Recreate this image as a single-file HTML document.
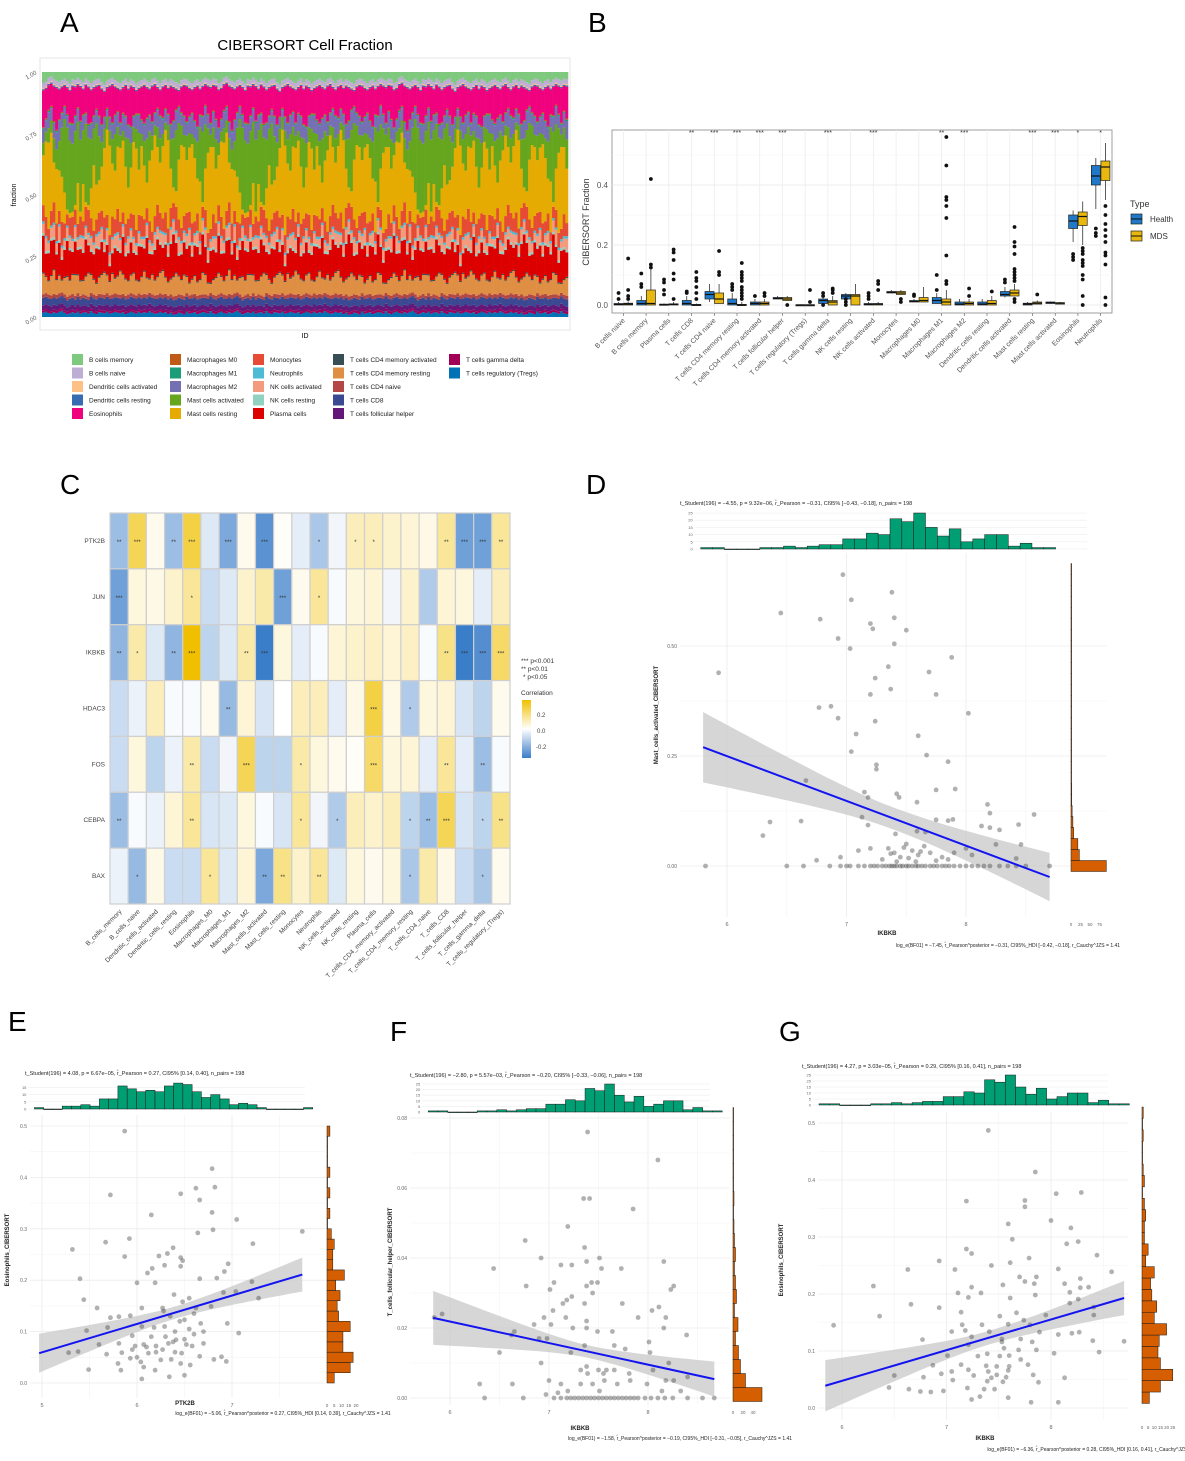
<!DOCTYPE html>
<html><head><meta charset="utf-8">
<style>
html,body{margin:0;padding:0;background:#fff;}
svg{display:block;font-family:"Liberation Sans",Arial,sans-serif;}
</style></head>
<body>
<svg id="fig" width="1185" height="1461" viewBox="0 0 1185 1461" xmlns="http://www.w3.org/2000/svg">
<rect x="0" y="0" width="1185" height="1461" fill="#fff"/>
<text x="60" y="32" font-size="28">A</text>
<text x="588" y="32" font-size="28">B</text>
<text x="60" y="494" font-size="28">C</text>
<text x="586" y="494" font-size="28">D</text>
<text x="8" y="1031" font-size="28">E</text>
<text x="390" y="1041" font-size="28">F</text>
<text x="779" y="1041" font-size="28">G</text>
</svg>
<script>
// ---------- Panel A data ----------
const cellTypes=["B cells memory","B cells naive","Dendritic cells activated","Dendritic cells resting","Eosinophils","Macrophages M0","Macrophages M1","Macrophages M2","Mast cells activated","Mast cells resting","Monocytes","Neutrophils","NK cells activated","NK cells resting","Plasma cells","T cells CD4 memory activated","T cells CD4 memory resting","T cells CD4 naive","T cells CD8","T cells follicular helper","T cells gamma delta","T cells regulatory (Tregs)"];
const cellColors=["#7FC97F","#BEAED4","#FDC086","#386CB0","#F0027F","#BF5B17","#1B9E77","#7570B3","#66A61E","#E6AB02","#E64B35","#4DBBD5","#F39B7F","#91D1C2","#DC0000","#374E55","#DF8F44","#B24745","#3B4992","#631879","#A20056","#0072B5"];
const baseFrac=[0.04,0.02,0.005,0.005,0.12,0.005,0.005,0.06,0.12,0.25,0.06,0.01,0.04,0.01,0.11,0.005,0.07,0.015,0.03,0.02,0.01,0.02];
const mastActVar=[0.05,0.04,0.06,0.05,0.1,0.08,0.12,0.2,0.3,0.35,0.3,0.28,0.32,0.25,0.3,0.22,0.35,0.3,0.2,0.15,0.25,0.18,0.1,0.08,0.05,0.06,0.1,0.15,0.08,0.05,0.04,0.12,0.2,0.1,0.06,0.08,0.15,0.05,0.1,0.18,0.12,0.06,0.04,0.08,0.1,0.05,0.03,0.06,0.12,0.2,0.25,0.15,0.08,0.05,0.1,0.06,0.04,0.08,0.15,0.22,0.3,0.18,0.1,0.05,0.08,0.12];
const eosVar=[0.08,0.1,0.12,0.09,0.1,0.15,0.13,0.08,0.06,0.1,0.12,0.14,0.11,0.09,0.13,0.16,0.1,0.12,0.08,0.11,0.14,0.1,0.13,0.15,0.12,0.1,0.09,0.14,0.17,0.12,0.1,0.08,0.11,0.13,0.15,0.12,0.09,0.14,0.1,0.12,0.16,0.13,0.11,0.09,0.12,0.14,0.1,0.08,0.12,0.15,0.11,0.09,0.13,0.1,0.12,0.14,0.16,0.11,0.09,0.1,0.13,0.15,0.12,0.1,0.14,0.11];
const plasmaVar=[0.06,0.08,0.12,0.1,0.07,0.15,0.09,0.11,0.13,0.08,0.1,0.14,0.12,0.09,0.16,0.1,0.08,0.12,0.15,0.11,0.09,0.13,0.1,0.14,0.17,0.12,0.08,0.1,0.13,0.11,0.15,0.09,0.12,0.14,0.1,0.16,0.11,0.08,0.13,0.12,0.1,0.15,0.09,0.11,0.14,0.12,0.1,0.13,0.08,0.11,0.15,0.12,0.09,0.14,0.1,0.13,0.11,0.16,0.12,0.09,0.1,0.14,0.11,0.13,0.08,0.12];
const nSamples=198;
const aTicks=["0.00","0.25","0.50","0.75","1.00"];

// ---------- Panel B data ----------
const bCats=["B cells naive","B cells memory","Plasma cells","T cells CD8","T cells CD4 naive","T cells CD4 memory resting","T cells CD4 memory activated","T cells follicular helper","T cells regulatory (Tregs)","T cells gamma delta","NK cells resting","NK cells activated","Monocytes","Macrophages M0","Macrophages M1","Macrophages M2","Dendritic cells resting","Dendritic cells activated","Mast cells resting","Mast cells activated","Eosinophils","Neutrophils"];
const hLo=[0,0,0,0,0.01,0,0,0.02,0,0.005,0.02,0,0.04,0.01,0.005,0,0,0.025,0,0.005,0.21,0.32];
const hQ1=[0,0,0,0,0.02,0,0,0.02,0,0.005,0.02,0,0.04,0.01,0.005,0,0,0.03,0,0.005,0.255,0.40];
const hMed=[0.002,0.005,0.001,0.005,0.035,0.005,0.005,0.022,0,0.015,0.03,0.002,0.042,0.012,0.015,0.003,0.003,0.035,0.003,0.008,0.28,0.43];
const hQ3=[0.005,0.015,0.003,0.015,0.045,0.02,0.01,0.025,0.001,0.02,0.035,0.005,0.045,0.015,0.025,0.01,0.01,0.045,0.006,0.01,0.30,0.465];
const hHi=[0.01,0.03,0.005,0.03,0.07,0.04,0.02,0.03,0.002,0.04,0.04,0.01,0.05,0.02,0.04,0.02,0.02,0.06,0.01,0.012,0.315,0.49];
const mLo=[0,0,0,0,0.005,0,0,0.015,0,0,0,0,0.035,0.01,0,0,0,0.03,0.003,0.003,0.2,0.35];
const mQ1=[0,0,0,0,0.005,0,0,0.015,0,0,0,0,0.035,0.01,0,0,0,0.03,0.003,0.003,0.265,0.415];
const mMed=[0.003,0.005,0.002,0,0.02,0,0.005,0.02,0,0.01,0.03,0.003,0.04,0.015,0.01,0.005,0.005,0.04,0.006,0.006,0.295,0.46];
const mQ3=[0.006,0.05,0.004,0.002,0.04,0.002,0.01,0.025,0.001,0.015,0.035,0.005,0.045,0.025,0.02,0.01,0.015,0.05,0.01,0.008,0.31,0.48];
const mHi=[0.012,0.12,0.01,0.005,0.07,0.01,0.02,0.03,0.002,0.03,0.07,0.01,0.05,0.06,0.05,0.02,0.03,0.07,0.015,0.01,0.345,0.54];
const hOut=[[0.04,0.02],[0.105,0.07,0.06],[0.085,0.075,0.05,0.035],[0.045,0.04],[],[0.07,0.06,0.05],[0.03],[],[],[0.04,0.03,0],[0.02,0.01,0],[0.04,0.03,0.02],[],[0.035,0.03],[0.1,0.05],[],[],[0.085,0.075],[],[],[0.17,0.16,0.15],[0.255,0.24,0.23]];
const mOut=[[0.155,0.05,0.03,0.02],[0.42,0.135,0.125],[0.185,0.175,0.15,0.105,0.085,0.02],[0.11,0.09,0.08,0.06,0.04,0.02],[0.18,0.11,0.1],[0.14,0.11,0.1,0.09,0.08,0.06,0.05,0.04,0.03,0.02],[0.04,0.03],[0],[0.05,0.01],[0.055,0.05,0.04],[],[0.08,0.07,0.05],[0.02,0.01],[],[0.56,0.465,0.36,0.35,0.33,0.29,0.165,0.08,0.07],[0.055,0.03],[0.045],[0.26,0.21,0.195,0.17,0.12,0.11,0.1,0.09,0.08,0.02,0.01],[0.035],[],[0.19,0.18,0.17,0.15,0.14,0.13,0.1,0.085,0.03,0],[0.33,0.3,0.27,0.25,0.23,0.21,0.175,0.165,0.135,0.025,0]];
const bSig=["","","","**","***","***","***","***","","***","","***","","","**","***","","","***","***","*","*"];
const bTicks=[0,0.2,0.4];

// ---------- Panel C data ----------
const hmRows=["PTK2B","JUN","IKBKB","HDAC3","FOS","CEBPA","BAX"];
const hmCols=["B_cells_memory","B_cells_naive","Dendritic_cells_activated","Dendritic_cells_resting","Eosinophils","Macrophages_M0","Macrophages_M1","Macrophages_M2","Mast_cells_activated","Mast_cells_resting","Monocytes","Neutrophils","NK_cells_activated","NK_cells_resting","Plasma_cells","T_cells_CD4_memory_activated","T_cells_CD4_memory_resting","T_cells_CD4_naive","T_cells_CD8","T_cells_follicular_helper","T_cells_gamma_delta","T_cells_regulatory_(Tregs)"];
const corrPTK2B=[-0.15,0.2,0.02,-0.15,0.22,-0.05,-0.2,0.02,-0.25,0.01,-0.04,-0.13,-0.02,0.08,0.08,0.06,0.05,0.03,0.12,-0.22,-0.22,0.12];
const corrJUN=[-0.22,0.04,0.03,0.06,0.12,-0.08,-0.05,0.06,0.1,-0.22,0.02,0.12,-0.01,0.04,0.05,-0.02,0.06,-0.12,0.05,0.04,-0.04,0.08];
const corrIKBKB=[-0.17,0.1,-0.05,-0.17,0.3,-0.1,-0.05,0.1,-0.3,0.04,-0.04,-0.01,0.05,0.06,0.07,0.05,0.07,-0.01,0.14,-0.3,-0.26,0.18];
const corrHDAC3=[-0.08,-0.03,0.08,-0.01,-0.01,0.02,-0.16,0.05,-0.06,0,0.08,0.08,-0.04,0.03,0.22,0.03,-0.12,0.04,0.05,-0.06,-0.1,0.02];
const corrFOS=[-0.08,0.04,-0.1,-0.03,0.1,-0.08,-0.02,0.2,-0.1,-0.1,0.1,0.04,0.02,0.01,0.18,0.04,0.05,-0.04,0.12,-0.04,-0.15,-0.01];
const corrCEBPA=[-0.15,-0.01,-0.03,0.05,0.12,-0.06,-0.05,0.04,-0.01,-0.06,0.12,-0.02,-0.12,0.08,0.06,0.08,-0.1,-0.15,0.2,-0.06,-0.1,0.14];
const corrBAX=[-0.03,-0.16,0.03,-0.08,-0.08,0.12,-0.05,0.05,-0.2,0.14,0.06,0.12,-0.05,0.04,0.02,0.04,-0.13,0.1,0.03,-0.08,-0.13,0.02];
const sigPTK2B=["**","***","","**","***","","***","","***","","","*","","*","*","","","","**","***","***","**"];
const sigJUN=["***","","","","*","","","","","***","","*","","","","","","","","","",""];
const sigIKBKB=["**","*","","**","***","","","**","***","","","","","","","","","","**","***","***","***"];
const sigHDAC3=["","","","","","","**","","","","","","","","***","","*","","","","",""];
const sigFOS=["","","","","**","","","***","","","*","","","","***","","","","**","","**",""];
const sigCEBPA=["**","","","","**","","","","","","*","","*","","","","*","**","***","","*","**"];
const sigBAX=["","*","","","","*","","","**","**","","**","","","","","*","","","","*",""];

// ---------- Scatter data ----------
const ikbkbHist=[1,1,0,0,0,1,1,2,1,2,3,3,7,7,11,10,21,19,25,15,9,14,5,7,10,10,2,4,1,1];
const ptk2bHist=[1,0,0,2,2,3,2,7,7,16,14,12,13,12,16,18,17,12,8,10,7,3,4,3,1,0,0,0,0,1];
const dRightHist=[93,22,18,7,5,3,2,2,1,1,1,1,1,1,1,1,1,1,1,1,1,1,1,1,1,1,1,0];
const eRightHist=[5,16,18,11,11,16,8,7,9,6,12,4,4,5,3,0,2,0,2,0,2,0,0,0,2];
const fRightHist=[58,25,15,11,5,10,3,7,5,3,5,3,2,1,2,1,1,0,1,0,1];
const gRightHist=[6,15,25,15,13,14,20,10,12,8,7,10,3,5,2,2,3,2,0,2,1,0,0,1,0,1];

const dX=[6.97,7.38,7.04,6.45,6.78,7.40,7.20,7.22,7.50,6.93,7.40,7.03,7.88,5.93,7.35,7.69,7.24,7.37,7.20,7.75,6.77,6.87,6.93,7.24,8.02,7.08,7.60,7.04,7.67,7.25,7.25,7.85,6.66,7.75,7.91,7.15,7.18,7.42,7.44,7.59,8.18,8.20,8.57,6.36,6.62,7.13,7.18,7.75,7.85,7.89,8.13,8.20,8.28,8.44,6.30,7.41,7.59,7.66,8.25,8.46,8.42,6.75,7.35,7.40,7.45,7.50,7.55,7.60,7.65,7.70,7.30,7.20,7.10,6.95,7.80,7.90,8.00,8.05,7.42,7.58,7.75,7.85,7.37,7.48,7.52,7.62];
const dY=[0.662,0.622,0.605,0.575,0.561,0.564,0.551,0.539,0.536,0.517,0.505,0.494,0.474,0.439,0.453,0.441,0.427,0.402,0.390,0.390,0.360,0.363,0.336,0.329,0.347,0.300,0.296,0.260,0.252,0.230,0.220,0.237,0.194,0.173,0.175,0.168,0.156,0.164,0.156,0.145,0.140,0.120,0.117,0.100,0.102,0.111,0.093,0.105,0.103,0.106,0.091,0.087,0.082,0.094,0.069,0.073,0.079,0.077,0.049,0.049,0.017,0.013,0.04,0.03,0.02,0.05,0.035,0.025,0.045,0.03,0.015,0.04,0.035,0.02,0.02,0.03,0.04,0.025,0.01,0.01,0.012,0.015,0.028,0.042,0.018,0.033];
const dZeroX=[5.82,6.50,6.64,6.86,6.95,7.00,7.03,7.10,7.15,7.20,7.23,7.26,7.30,7.33,7.36,7.38,7.40,7.42,7.45,7.47,7.50,7.52,7.55,7.58,7.60,7.63,7.66,7.70,7.73,7.76,7.80,7.83,7.86,7.90,7.95,8.00,8.05,8.10,8.15,8.20,8.28,8.35,8.42,8.50,8.70];

const eX=[5.87,6.79,6.82,6.62,6.46,5.72,6.66,6.79,6.15,7.05,6.64,6.80,7.74,5.92,5.67,7.22,5.32,6.38,6.32,5.87,6.23,6.46,6.48,6.16,6.11,6.46,6.96,6.29,6.92,5.40,6.0,6.19,6.66,6.84,7.21,5.44,5.58,5.72,5.81,5.93,6.05,6.27,6.39,6.48,6.55,6.62,6.78,6.91,7.04,7.28,5.47,5.69,5.95,6.18,6.29,6.50,6.67,6.95,7.07,5.60,5.81,5.98,6.07,6.20,6.33,6.41,6.58,6.70,5.28,5.38,5.68,5.84,6.12,6.27,6.47,6.66,6.81,6.89,6.94,5.80,5.93,6.04,6.36,6.46,6.56,5.49,5.83,6.19,6.07,6.34,6.50,6.05,6.3,6.4,6.5,6.6,6.2,6.1,6.35,6.45,6.55,6.25,6.15,6.05,5.95,6.0,6.4,6.52,6.6,6.28,6.38,6.7];
const eY=[0.49,0.417,0.381,0.379,0.368,0.366,0.356,0.332,0.327,0.318,0.292,0.298,0.295,0.281,0.274,0.271,0.260,0.263,0.252,0.246,0.247,0.244,0.238,0.223,0.214,0.227,0.232,0.229,0.217,0.203,0.195,0.195,0.203,0.204,0.197,0.162,0.146,0.127,0.129,0.131,0.146,0.146,0.172,0.158,0.165,0.146,0.149,0.176,0.178,0.165,0.102,0.108,0.092,0.108,0.110,0.123,0.116,0.116,0.097,0.075,0.077,0.072,0.075,0.072,0.077,0.084,0.072,0.077,0.059,0.061,0.056,0.059,0.058,0.065,0.058,0.052,0.046,0.051,0.042,0.038,0.048,0.041,0.046,0.038,0.035,0.026,0.025,0.025,0.031,0.012,0.015,0.008,0.09,0.1,0.085,0.095,0.06,0.07,0.13,0.12,0.105,0.045,0.09,0.11,0.065,0.05,0.06,0.075,0.135,0.14,0.08,0.1];

const fX=[7.39,8.10,7.35,7.41,7.85,7.19,6.76,7.36,6.92,7.12,7.23,7.38,7.51,7.53,7.73,8.16,6.44,6.77,7.05,7.01,7.38,7.43,7.49,7.44,8.26,8.23,7.18,7.23,7.36,7.74,7.14,6.95,7.04,7.17,7.38,7.90,8.04,8.11,8.18,5.92,5.84,6.85,7.02,7.24,7.38,7.49,7.64,8.16,8.39,6.62,6.65,6.90,6.98,7.36,7.66,8.01,6.50,6.92,7.22,7.77,8.02,8.21,7.38,7.50,7.58,7.66,7.32,7.81,8.05,7.55,7.39,6.30,6.63,7.00,7.12,7.32,7.44,7.56,7.69,7.82,7.99,8.18,8.26,8.40,7.19,7.51,8.14,8.33,6.97,7.09];
const fY=[0.076,0.068,0.057,0.057,0.054,0.049,0.045,0.043,0.040,0.038,0.038,0.039,0.040,0.037,0.037,0.039,0.037,0.032,0.033,0.031,0.032,0.033,0.033,0.030,0.032,0.031,0.028,0.029,0.027,0.027,0.027,0.023,0.025,0.023,0.022,0.023,0.025,0.026,0.023,0.024,0.023,0.021,0.021,0.020,0.020,0.019,0.019,0.020,0.018,0.018,0.019,0.017,0.017,0.015,0.015,0.016,0.013,0.010,0.013,0.014,0.013,0.010,0.009,0.008,0.008,0.008,0.008,0.007,0.008,0.007,0.007,0.004,0.004,0.005,0.004,0.004,0.004,0.005,0.004,0.005,0.004,0.005,0.005,0.006,0.002,0.002,0.002,0.002,0.001,0.0015];
const fZeroX=[6.35,6.74,7.05,7.12,7.18,7.22,7.26,7.30,7.34,7.38,7.42,7.46,7.50,7.54,7.58,7.62,7.66,7.70,7.74,7.78,7.82,7.86,7.90,7.97,8.03,8.10,8.17,8.25,8.40,8.55,8.67];

const gX=[7.40,7.85,8.29,8.05,7.75,7.19,7.75,8.00,7.59,8.19,7.63,8.26,8.15,7.19,7.24,8.44,7.79,6.93,7.61,7.43,6.63,7.08,8.07,8.58,7.70,7.86,8.28,7.75,7.84,8.13,7.54,6.30,7.24,8.36,8.28,7.33,7.11,8.18,7.85,7.21,7.61,6.66,8.26,8.18,8.41,6.93,7.14,7.67,6.36,7.51,7.95,8.41,5.92,7.15,7.34,7.59,7.74,7.80,7.05,7.18,7.41,7.89,8.20,8.27,6.77,7.24,7.53,7.71,8.07,8.70,8.40,7.21,7.53,7.82,7.55,7.69,7.86,8.03,8.46,7.01,7.30,7.39,7.51,7.60,6.87,7.14,7.38,7.48,7.60,7.71,7.78,6.95,7.05,7.21,7.40,7.48,7.59,6.50,6.78,7.26,7.43,7.57,7.83,8.13,7.06,7.39,7.54,7.88,6.45,6.64,6.75,6.85,6.97,7.20,7.36,7.46,7.32,7.24,7.59,7.81,8.07];
const gY=[0.487,0.414,0.378,0.376,0.364,0.363,0.353,0.329,0.323,0.316,0.296,0.292,0.288,0.279,0.271,0.268,0.263,0.258,0.255,0.250,0.243,0.243,0.244,0.239,0.230,0.230,0.227,0.222,0.218,0.218,0.216,0.214,0.212,0.212,0.211,0.202,0.202,0.203,0.198,0.194,0.193,0.182,0.191,0.184,0.177,0.176,0.168,0.167,0.161,0.161,0.163,0.163,0.145,0.146,0.146,0.147,0.154,0.146,0.134,0.136,0.134,0.133,0.131,0.133,0.120,0.125,0.121,0.121,0.129,0.117,0.118,0.111,0.116,0.116,0.105,0.102,0.102,0.096,0.098,0.092,0.091,0.095,0.091,0.092,0.075,0.076,0.074,0.073,0.073,0.085,0.076,0.060,0.064,0.067,0.064,0.058,0.066,0.057,0.054,0.057,0.053,0.054,0.058,0.053,0.049,0.047,0.046,0.045,0.036,0.033,0.029,0.028,0.030,0.035,0.033,0.033,0.020,0.015,0.018,0.010,0.010];

const dFit=[5.8,0.27,8.7,-0.025];
const eFit=[4.97,0.058,7.74,0.211];
const fFit=[5.83,0.0229,8.67,0.0054];
const gFit=[5.84,0.039,8.7,0.193];

// ---------- helpers ----------
const NS='http://www.w3.org/2000/svg';
const svg=document.getElementById('fig');
function mk(tag,attrs,parent){const e=document.createElementNS(NS,tag);for(const k in attrs)e.setAttribute(k,attrs[k]);(parent||svg).appendChild(e);return e;}
function txt(s,attrs,parent){const e=mk('text',attrs,parent);e.textContent=s;return e;}
function grp(name,parent){const g=mk('g',{},parent);


return g;}

// ---------- Panel A ----------
(function(){
  const g=grp('panel-a-stacked-bar');
  const L=42,R=568,T=72,B=317;
  mk('rect',{x:40,y:58,width:530,height:272,fill:'#fff',stroke:'#e5e5e5'},g);
  const t=txt('CIBERSORT Cell Fraction',{x:305,y:50,'font-size':15,'text-anchor':'middle'},g);
  
  
  const yA=v=>B-(B-T)*v;
  const bw=(R-L)/nSamples;
  for(let i=0;i<nSamples;i++){
    const fr=baseFrac.slice();
    fr[8]=mastActVar[i%66]; fr[4]=eosVar[(i+23)%66]; fr[14]=plasmaVar[(i+41)%66];
    fr[10]=plasmaVar[(i+7)%66]*0.6; fr[16]=eosVar[(i+11)%66]*0.6;
    fr[7]=eosVar[(i+50)%66]*0.5; fr[12]=plasmaVar[(i+29)%66]*0.35;
    fr[0]=eosVar[(i+5)%66]*0.3; fr[21]=plasmaVar[(i+17)%66]*0.15;
    let s=0; for(let k=0;k<fr.length;k++) if(k!==9) s+=fr[k];
    fr[9]=Math.max(0.02,1-s);
    let tot=fr.reduce((a,b)=>a+b,0);
    let acc=0;
    for(let k=fr.length-1;k>=0;k--){
      const v=fr[k]/tot;
      const r=mk('rect',{x:(L+i*bw).toFixed(2),y:yA(acc+v).toFixed(2),width:(bw+0.3).toFixed(2),height:((B-T)*v).toFixed(2),fill:cellColors[k]},g);
      
      
      acc+=v;
    }
  }
  aTicks.forEach((lab,i)=>{const y=yA(i*0.25);
    const tt=txt(lab,{x:36,y:y+2,'font-size':6,fill:'#555','text-anchor':'end',transform:`rotate(-30 36 ${y})`},g);
    
    });
  const yl=txt('fraction',{x:16,y:195,'font-size':7,'text-anchor':'middle',transform:'rotate(-90 16 195)'},g);
  
  
  const xl=txt('ID',{x:305,y:338,'font-size':7,'text-anchor':'middle'},g);
  
  
  const colX=[72,170,253,333,449];
  const lg=grp('legend-a');
  cellTypes.forEach((n,k)=>{const c=Math.floor(k/5),r=k%5; const x=colX[c], y=354+r*13.5;
    const e=grp('legend-entry',lg);
    mk('rect',{x:x,y:y,width:11,height:11,fill:cellColors[k]},e);
    txt(n,{x:x+17,y:y+8,'font-size':6.5,fill:'#222'},e);});
})();

// ---------- Panel B ----------
(function(){
  const g=grp('panel-b-boxplot');
  const L=612,R=1112,T=130,B=313;
  const yB=v=>305-v*300;
  const cw=(R-L)/bCats.length;
  const cx=i=>L+(i+0.5)*cw;
  mk('rect',{x:L,y:T,width:R-L,height:B-T,fill:'#fff',stroke:'#888','stroke-width':0.8},g);
  [0.1,0.3,0.5].forEach(v=>mk('line',{x1:L,x2:R,y1:yB(v),y2:yB(v),stroke:'#f2f2f2','stroke-width':0.6},g));
  bTicks.forEach(v=>{mk('line',{x1:L,x2:R,y1:yB(v),y2:yB(v),stroke:'#e6e6e6','stroke-width':0.8},g);
    const t=txt(v.toFixed(1),{x:L-4,y:yB(v)+3,'font-size':8,fill:'#555','text-anchor':'end'},g);
    
    });
  bCats.forEach((n,i)=>mk('line',{x1:cx(i),x2:cx(i),y1:T,y2:B,stroke:'#ededed','stroke-width':0.8},g));
  const yt=txt('CIBERSORT Fraction',{x:589,y:222,'font-size':9,'text-anchor':'middle',fill:'#333',transform:'rotate(-90 589 222)'},g);
  
  
  function box(x,lo,q1,med,q3,hi,outs,col){
    const w=9;
    mk('line',{x1:x,x2:x,y1:yB(hi),y2:yB(q3),stroke:'#333','stroke-width':0.8},g);
    mk('line',{x1:x,x2:x,y1:yB(q1),y2:yB(lo),stroke:'#333','stroke-width':0.8},g);
    const r=mk('rect',{x:x-w/2,y:yB(q3),width:w,height:Math.max(1.2,yB(q1)-yB(q3)),fill:col,stroke:'#222','stroke-width':0.7},g);
    
    
    mk('line',{x1:x-w/2,x2:x+w/2,y1:yB(med),y2:yB(med),stroke:'#111','stroke-width':1.2},g);
    outs.forEach(v=>mk('circle',{cx:x,cy:yB(v),r:1.9,fill:'#111'},g));
  }
  bCats.forEach((n,i)=>{
    box(cx(i)-4.8,hLo[i],hQ1[i],hMed[i],hQ3[i],hHi[i],hOut[i],'#1F78C8');
    box(cx(i)+4.8,mLo[i],mQ1[i],mMed[i],mQ3[i],mHi[i],mOut[i],'#E8B80E');
    mk('line',{x1:cx(i),x2:cx(i),y1:B,y2:B+3,stroke:'#555','stroke-width':0.6},g);
    const t=txt(n,{x:cx(i)+2,y:B+8,'font-size':7,fill:'#555','text-anchor':'end',transform:`rotate(-45 ${cx(i)+2} ${B+8})`},g);
    
    
    if(bSig[i]){const s=txt(bSig[i],{x:cx(i),y:T+5,'font-size':7,'text-anchor':'middle',fill:'#333'},g);
      
      }
  });
  const lg=grp('legend-b');
  txt('Type',{x:1130,y:207,'font-size':9,fill:'#333'},lg);
  [['Health','#1F78C8',214],['MDS','#E8B80E',231]].forEach(([n,c,y])=>{const e=grp('legend-entry',lg);
    mk('rect',{x:1131,y:y,width:11,height:10,fill:c,stroke:'#222','stroke-width':0.7},e);
    mk('line',{x1:1131,x2:1142,y1:y+5,y2:y+5,stroke:'#111','stroke-width':1},e);
    txt(n,{x:1150,y:y+8,'font-size':8,fill:'#333'},e);});
})();

// ---------- Panel C ----------
(function(){
  const g=grp('panel-c-heatmap');
  const L=110,R=510,T=513,B=904;
  const corr=[corrPTK2B,corrJUN,corrIKBKB,corrHDAC3,corrFOS,corrCEBPA,corrBAX];
  const sig=[sigPTK2B,sigJUN,sigIKBKB,sigHDAC3,sigFOS,sigCEBPA,sigBAX];
  const cw=(R-L)/hmCols.length, rh=(B-T)/hmRows.length;
  function col(r){const t=Math.max(-1,Math.min(1,r/0.3));
    const c=t>=0?[240,192,0]:[58,125,201]; const a=Math.abs(t);
    return `rgb(${Math.round(255+(c[0]-255)*a)},${Math.round(255+(c[1]-255)*a)},${Math.round(255+(c[2]-255)*a)})`;}
  hmRows.forEach((rn,ri)=>{
    const rl=txt(rn,{x:L-5,y:T+(ri+0.5)*rh+2,'font-size':6.5,fill:'#444','text-anchor':'end'},g);
    
    
    hmCols.forEach((cn,ci)=>{
      const c=mk('rect',{x:L+ci*cw,y:T+ri*rh,width:cw,height:rh,fill:col(corr[ri][ci]),stroke:'#cfcfcf','stroke-width':1.2},g);
      
      
      if(sig[ri][ci]){const s=txt(sig[ri][ci],{x:L+(ci+0.5)*cw,y:T+(ri+0.5)*rh+3,'font-size':6,'text-anchor':'middle',fill:'#333'},g);
        
        }
    });
  });
  hmCols.forEach((cn,ci)=>{const x=L+(ci+0.5)*cw+3;
    const t=txt(cn,{x:x,y:B+8,'font-size':6.5,fill:'#444','text-anchor':'end',transform:`rotate(-45 ${x} ${B+8})`},g);
    
    });
  const lg=grp('legend-c',g);
  txt('*** p<0.001',{x:521,y:663,'font-size':6.5,fill:'#333'},lg);
  txt('** p<0.01',{x:521,y:671,'font-size':6.5,fill:'#333'},lg);
  txt('* p<0.05',{x:523,y:679,'font-size':6.5,fill:'#333'},lg);
  txt('Correlation',{x:521,y:695,'font-size':6.5,fill:'#333'},lg);
  const defs=mk('defs',{},svg);
  const gr=mk('linearGradient',{id:'cbar',x1:0,y1:0,x2:0,y2:1},defs);
  mk('stop',{offset:'0','stop-color':'#F0C000'},gr);
  mk('stop',{offset:'0.5','stop-color':'#ffffff'},gr);
  mk('stop',{offset:'1','stop-color':'#3A7DC9'},gr);
  const cb=mk('rect',{x:522,y:700,width:9,height:58,fill:'url(#cbar)'},lg);
  
  
  txt('0.2',{x:537,y:717,'font-size':6,fill:'#444'},lg);
  txt('0.0',{x:537,y:733,'font-size':6,fill:'#444'},lg);
  txt('-0.2',{x:536,y:749,'font-size':6,fill:'#444'},lg);
})();

// ---------- Scatter panels ----------
function scatterPanel(p){
  const g=grp(p.name);
  const xs=p.xs, ys=p.ys;
  const X=v=>p.x0+(v-p.xv0)*p.kx, Y=v=>p.y0-v*p.ky;
  const [l,t,r,b]=p.rect;
  p.xTicks.forEach(v=>{mk('line',{x1:X(v),x2:X(v),y1:t,y2:b,stroke:'#ebebeb','stroke-width':0.8},g);
    mk('line',{x1:X(v+0.5),x2:X(v+0.5),y1:t,y2:b,stroke:'#f4f4f4','stroke-width':0.6},g);
    const tl=txt(String(v),{x:X(v),y:b+9,'font-size':5.5,fill:'#666','text-anchor':'middle'},g);
    
    });
  p.yTicks.forEach((v,i)=>{mk('line',{x1:l,x2:r,y1:Y(v),y2:Y(v),stroke:'#ebebeb','stroke-width':0.8},g);
    if(i<p.yTicks.length-1){const m=(v+p.yTicks[i+1])/2; mk('line',{x1:l,x2:r,y1:Y(m),y2:Y(m),stroke:'#f4f4f4','stroke-width':0.6},g);}
    const tl=txt(v.toFixed(p.dec),{x:l-3,y:Y(v)+2,'font-size':5,fill:'#666','text-anchor':'end'},g);
    
    });
  const [x1,y1,x2,y2]=p.fit; const m=p.fitM;
  const lin=x=>y1+(y2-y1)*(x-x1)/(x2-x1);
  const hw=x=>{const he=x<m?p.hl:p.hr; const xe=x<m?x1:x2; const f=(x-m)/(xe-m); return Math.sqrt(p.hc*p.hc+(he*he-p.hc*p.hc)*f*f);};
  const up=[],dn=[];
  for(let k=0;k<=40;k++){const x=x1+(x2-x1)*k/40; up.push(X(x).toFixed(1)+','+Y(lin(x)+hw(x)).toFixed(1)); dn.unshift(X(x).toFixed(1)+','+Y(lin(x)-hw(x)).toFixed(1));}
  const band=mk('polygon',{points:up.concat(dn).join(' '),fill:'#cccccc','fill-opacity':0.8},g);
  
  
  for(let i=0;i<xs.length;i++){const c=mk('circle',{cx:X(xs[i]).toFixed(1),cy:Y(ys[i]).toFixed(1),r:2.4,fill:'#444','fill-opacity':0.42},g);
    
    }
  const fl=mk('line',{x1:X(x1),y1:Y(y1),x2:X(x2),y2:Y(y2),stroke:'#1414F0','stroke-width':2},g);
  
  
  const th=p.top; const bw=(th.hi-th.lo)/th.counts.length;
  th.ticks.forEach(c=>{const yy=th.base-c*th.px; mk('line',{x1:X(th.lo)-6,x2:r-20,y1:yy,y2:yy,stroke:'#eeeeee','stroke-width':0.6},g);
    txt(String(c),{x:X(th.lo)-8,y:yy+1.5,'font-size':4,fill:'#666','text-anchor':'end'},g);});
  th.counts.forEach((c,k)=>{const h=mk('rect',{x:X(th.lo+k*bw),y:th.base-c*th.px,width:bw*p.kx,height:Math.max(0.6,c*th.px),fill:'#009E73',stroke:'#1a1a1a','stroke-width':0.5},g);
    
    });
  const rh=p.right;
  rh.counts.forEach((c,k)=>{const y0=rh.start+k*rh.w;
    const h=mk('rect',{x:rh.base,y:Y(y0+rh.w),width:Math.max(0.6,c*rh.px),height:rh.w*p.ky,fill:'#D55E00',stroke:'#1a1a1a','stroke-width':0.5},g);
    
    });
  rh.ticks.forEach(c=>txt(String(c),{x:rh.base+c*rh.px,y:b+9,'font-size':4.5,fill:'#666','text-anchor':'middle'},g));
  const ti=txt(p.title,{x:p.titlePos[0],y:p.titlePos[1],'font-size':5.5,fill:'#222'},g);
  
  
  const xl=txt(p.xlab,{x:p.xlabPos[0],y:p.xlabPos[1],'font-size':6,'font-weight':'bold','text-anchor':'middle',fill:'#222'},g);
  
  
  const yl=txt(p.ylab,{x:p.ylabPos[0],y:p.ylabPos[1],'font-size':6,'font-weight':'bold','text-anchor':'middle',fill:'#222',transform:`rotate(-90 ${p.ylabPos[0]} ${p.ylabPos[1]})`},g);
  
  
  const st=txt(p.stat,{x:p.statPos[0],y:p.statPos[1],'font-size':5,fill:'#222','text-anchor':'middle'},g);
  
  
}

scatterPanel({name:'panel-d-scatter',xs:dX.concat(dZeroX),ys:dY.concat(dZeroX.map(()=>0)),xv0:6,x0:727,kx:119.5,y0:866,ky:440,dec:2,
  rect:[680,553,1107,917],xTicks:[6,7,8],yTicks:[0,0.25,0.5],
  fit:dFit,fitM:7.4,hc:0.025,hl:0.08,hr:0.055,
  top:{counts:ikbkbHist,lo:5.78,hi:8.75,base:549,px:1.44,ticks:[0,5,10,15,20,25]},
  right:{counts:dRightHist,start:-0.0125,w:0.025,base:1071,px:0.38,ticks:[0,25,50,75]},
  title:'t_Student(196) = −4.55, p = 9.32e−06, r̂_Pearson = −0.31, CI95% [−0.43, −0.18], n_pairs = 198',titlePos:[680,505],
  xlab:'IKBKB',xlabPos:[887,935],ylab:'Mast_cells_activated_CIBERSORT',ylabPos:[658,715],
  stat:'log_e(BF01) = −7.45, r̂_Pearson^posterior = −0.31, CI95%_HDI [−0.42, −0.18], r_Cauchy^JZS = 1.41',statPos:[1008,947]});

scatterPanel({name:'panel-e-scatter',xs:eX,ys:eY,xv0:5,x0:42,kx:95,y0:1383,ky:514,dec:1,
  rect:[30,1115,325,1398],xTicks:[5,6,7],yTicks:[0,0.1,0.2,0.3,0.4,0.5],
  fit:eFit,fitM:6.4,hc:0.012,hl:0.038,hr:0.033,
  top:{counts:ptk2bHist,lo:4.92,hi:7.85,base:1109,px:1.44,ticks:[0,5,10,15]},
  right:{counts:eRightHist,start:0,w:0.02,base:327,px:1.45,ticks:[0,5,10,15,20]},
  title:'t_Student(196) = 4.08, p = 6.67e−05, r̂_Pearson = 0.27, CI95% [0.14, 0.40], n_pairs = 198',titlePos:[25,1075],
  xlab:'PTK2B',xlabPos:[185,1405],ylab:'Eosinophils_CIBERSORT',ylabPos:[9,1250],
  stat:'log_e(BF01) = −5.06, r̂_Pearson^posterior = 0.27, CI95%_HDI [0.14, 0.39], r_Cauchy^JZS = 1.41',statPos:[283,1415]});

scatterPanel({name:'panel-f-scatter',xs:fX.concat(fZeroX),ys:fY.concat(fZeroX.map(()=>0)),xv0:6,x0:450,kx:99,y0:1398,ky:3500,dec:2,
  rect:[410,1112,730,1405],xTicks:[6,7,8],yTicks:[0,0.02,0.04,0.06,0.08],
  fit:fFit,fitM:7.4,hc:0.0018,hl:0.0077,hr:0.005,
  top:{counts:ikbkbHist,lo:5.78,hi:8.75,base:1112,px:1.12,ticks:[0,5,10,15,20,25]},
  right:{counts:fRightHist,start:-0.001,w:0.004,base:733,px:0.5,ticks:[0,20,40]},
  title:'t_Student(196) = −2.80, p = 5.57e−03, r̂_Pearson = −0.20, CI95% [−0.33, −0.06], n_pairs = 198',titlePos:[410,1077],
  xlab:'IKBKB',xlabPos:[580,1430],ylab:'T_cells_follicular_helper_CIBERSORT',ylabPos:[392,1262],
  stat:'log_e(BF01) = −1.58, r̂_Pearson^posterior = −0.19, CI95%_HDI [−0.31, −0.05], r_Cauchy^JZS = 1.41',statPos:[680,1440]});

scatterPanel({name:'panel-g-scatter',xs:gX,ys:gY,xv0:6,x0:842,kx:104.5,y0:1408,ky:570,dec:1,
  rect:[818,1112,1128,1420],xTicks:[6,7,8],yTicks:[0,0.1,0.2,0.3,0.4,0.5],
  fit:gFit,fitM:7.4,hc:0.012,hl:0.045,hr:0.03,
  top:{counts:ikbkbHist,lo:5.78,hi:8.75,base:1105,px:1.2,ticks:[0,5,10,15,20,25]},
  right:{counts:gRightHist,start:0.008,w:0.02,base:1142,px:1.23,ticks:[0,5,10,15,20,25]},
  title:'t_Student(196) = 4.27, p = 3.03e−05, r̂_Pearson = 0.29, CI95% [0.16, 0.41], n_pairs = 198',titlePos:[802,1068],
  xlab:'IKBKB',xlabPos:[985,1440],ylab:'Eosinophils_CIBERSORT',ylabPos:[783,1260],
  stat:'log_e(BF01) = −6.36, r̂_Pearson^posterior = 0.28, CI95%_HDI [0.16, 0.41], r_Cauchy^JZS = 1.41',statPos:[1095,1451]});
</script>
</body></html>
